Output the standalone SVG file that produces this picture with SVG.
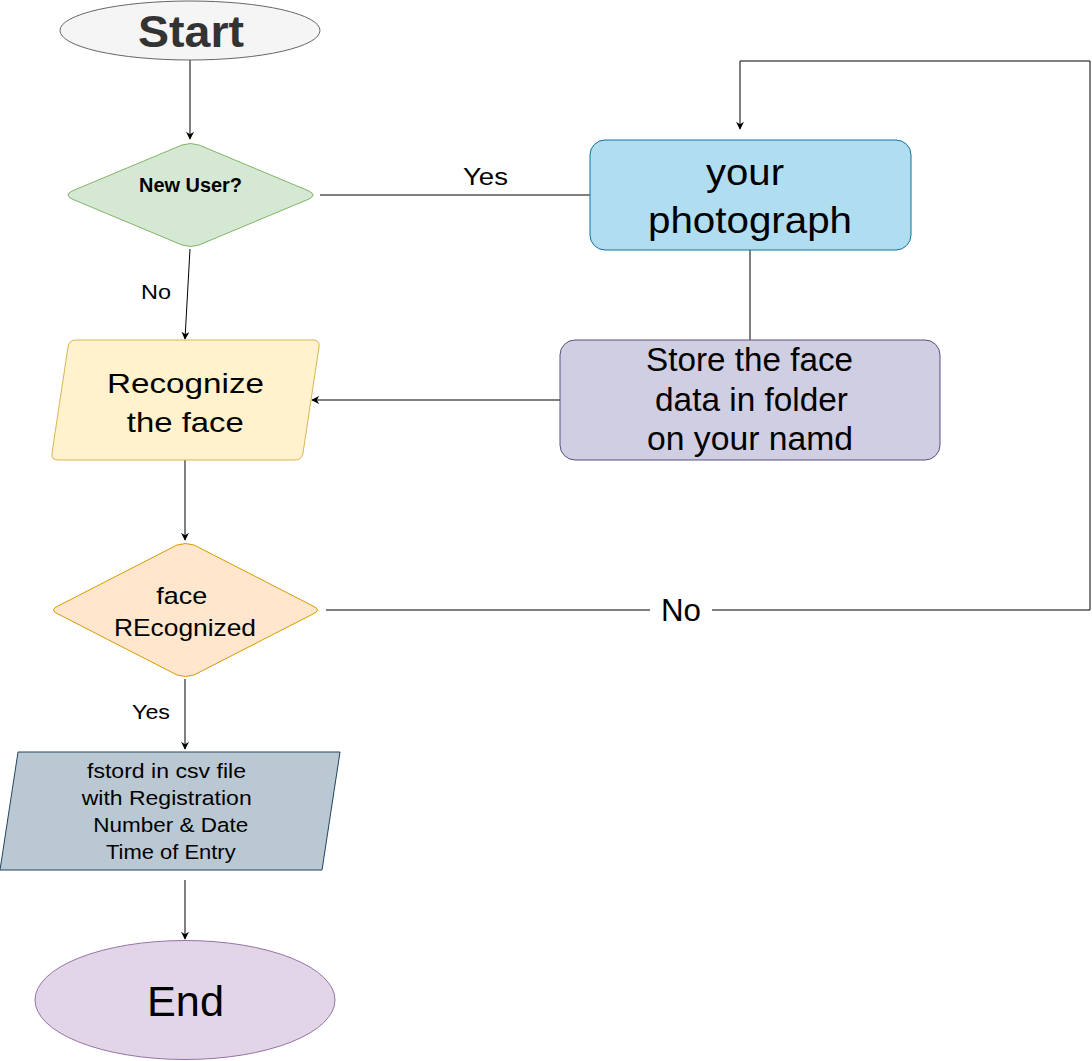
<svg xmlns="http://www.w3.org/2000/svg" width="1092" height="1061" viewBox="0 0 1092 1061">
<style>
text{font-family:"Liberation Sans",Arial,sans-serif;text-anchor:middle;fill:#000}
.c{fill:none;stroke:#000;stroke-width:1}
</style>
<defs>
<marker id="a" viewBox="0 0 10 10" refX="9" refY="5" markerWidth="8" markerHeight="8" markerUnits="userSpaceOnUse" orient="auto">
<path d="M0,0 L10,5 L0,10 L3,5 Z" fill="#000"/>
</marker>
</defs>
<rect width="1092" height="1061" fill="#fff"/>
<g id="connectors">
<path class="c" d="M190,60 L190,139" marker-end="url(#a)"/>
<path class="c" d="M320,195 L610,195"/>
<path class="c" d="M750,250 L750,340"/>
<path class="c" d="M560,400 L312,400" marker-end="url(#a)"/>
<path class="c" d="M190,249 L185,339" marker-end="url(#a)"/>
<path class="c" d="M185,460 L185,540" marker-end="url(#a)"/>
<path class="c" d="M326,610 L650,610 M712,610 L1090,610 L1090,61 L740,61 L740,129" marker-end="url(#a)"/>
<path class="c" d="M185,679 L185,749" marker-end="url(#a)"/>
<path class="c" d="M185,880 L185,939" marker-end="url(#a)"/>
<text x="485.5" y="185" font-size="23" textLength="45" lengthAdjust="spacingAndGlyphs">Yes</text>
<text x="156" y="299" font-size="20" textLength="30" lengthAdjust="spacingAndGlyphs">No</text>
<text x="681" y="621" font-size="31" textLength="40" lengthAdjust="spacingAndGlyphs">No</text>
<text x="151" y="719" font-size="20" textLength="38" lengthAdjust="spacingAndGlyphs">Yes</text>
</g>
<g id="start">
<ellipse cx="190" cy="30.5" rx="130" ry="29.5" fill="#f5f5f5" stroke="#666"/>
<text x="191" y="47" font-size="44" font-weight="bold" style="fill:#333" textLength="106" lengthAdjust="spacingAndGlyphs">Start</text>
</g>
<g id="newuser">
<path d="M182,145 Q190.5,142 199,145 L309,191 Q317,195 309,199 L199,245 Q190.5,248 182,245 L72,199 Q64,195 72,191 Z" fill="#d5e8d4" stroke="#82b366"/>
<text x="190.5" y="192" font-size="20" font-weight="bold" textLength="103" lengthAdjust="spacingAndGlyphs">New User?</text>
</g>
<g id="photo">
<rect x="590" y="140" width="321" height="110" rx="15" fill="#b1ddf0" stroke="#10739e"/>
<text x="745" y="185" font-size="37" textLength="78" lengthAdjust="spacingAndGlyphs">your</text>
<text x="750" y="233" font-size="37" textLength="204" lengthAdjust="spacingAndGlyphs">photograph</text>
</g>
<g id="store">
<rect x="560" y="340" width="380" height="120" rx="15" fill="#d0cee2" stroke="#56517e"/>
<text x="749.5" y="371" font-size="33.5" textLength="207" lengthAdjust="spacingAndGlyphs">Store the face</text>
<text x="751.5" y="411" font-size="33.5" textLength="193" lengthAdjust="spacingAndGlyphs">data in folder</text>
<text x="750" y="450" font-size="33.5" textLength="206" lengthAdjust="spacingAndGlyphs">on your namd</text>
</g>
<g id="recognize">
<path d="M76,340 L313,340 Q320,340 319,347 L303,453 Q302,460 295,460 L58,460 Q51,460 52,453 L68,347 Q69,340 76,340 Z" fill="#fff2cc" stroke="#d6b656"/>
<text x="185.5" y="393" font-size="28" textLength="157" lengthAdjust="spacingAndGlyphs">Recognize</text>
<text x="185.3" y="432" font-size="28" textLength="117" lengthAdjust="spacingAndGlyphs">the face</text>
</g>
<g id="recognized">
<path d="M177,545 Q185.5,542 194,545 L313,606 Q322,610 313,614 L194,675 Q185.5,678 177,675 L58,614 Q49,610 58,606 Z" fill="#ffe6cc" stroke="#d79b00"/>
<text x="181.7" y="603.5" font-size="24" textLength="51" lengthAdjust="spacingAndGlyphs">face</text>
<text x="185" y="636" font-size="24" textLength="142" lengthAdjust="spacingAndGlyphs">REcognized</text>
</g>
<g id="store_csv">
<path d="M18,752 L340,752 L322,870 L0,870 Z" fill="#bac8d3" stroke="#23445d"/>
<text x="166.5" y="778" font-size="20.5" textLength="159" lengthAdjust="spacingAndGlyphs">fstord in csv file</text>
<text x="166.7" y="805" font-size="20.5" textLength="170" lengthAdjust="spacingAndGlyphs">with Registration</text>
<text x="170.8" y="832" font-size="20.5" textLength="155" lengthAdjust="spacingAndGlyphs">Number &amp; Date</text>
<text x="170.8" y="859" font-size="20.5" textLength="129.7" lengthAdjust="spacingAndGlyphs">Time of Entry</text>
</g>
<g id="end">
<ellipse cx="185" cy="1000" rx="150" ry="59.5" fill="#e1d5e7" stroke="#9673a6"/>
<text x="185.5" y="1016" font-size="42" textLength="77" lengthAdjust="spacingAndGlyphs">End</text>
</g>
</svg>
